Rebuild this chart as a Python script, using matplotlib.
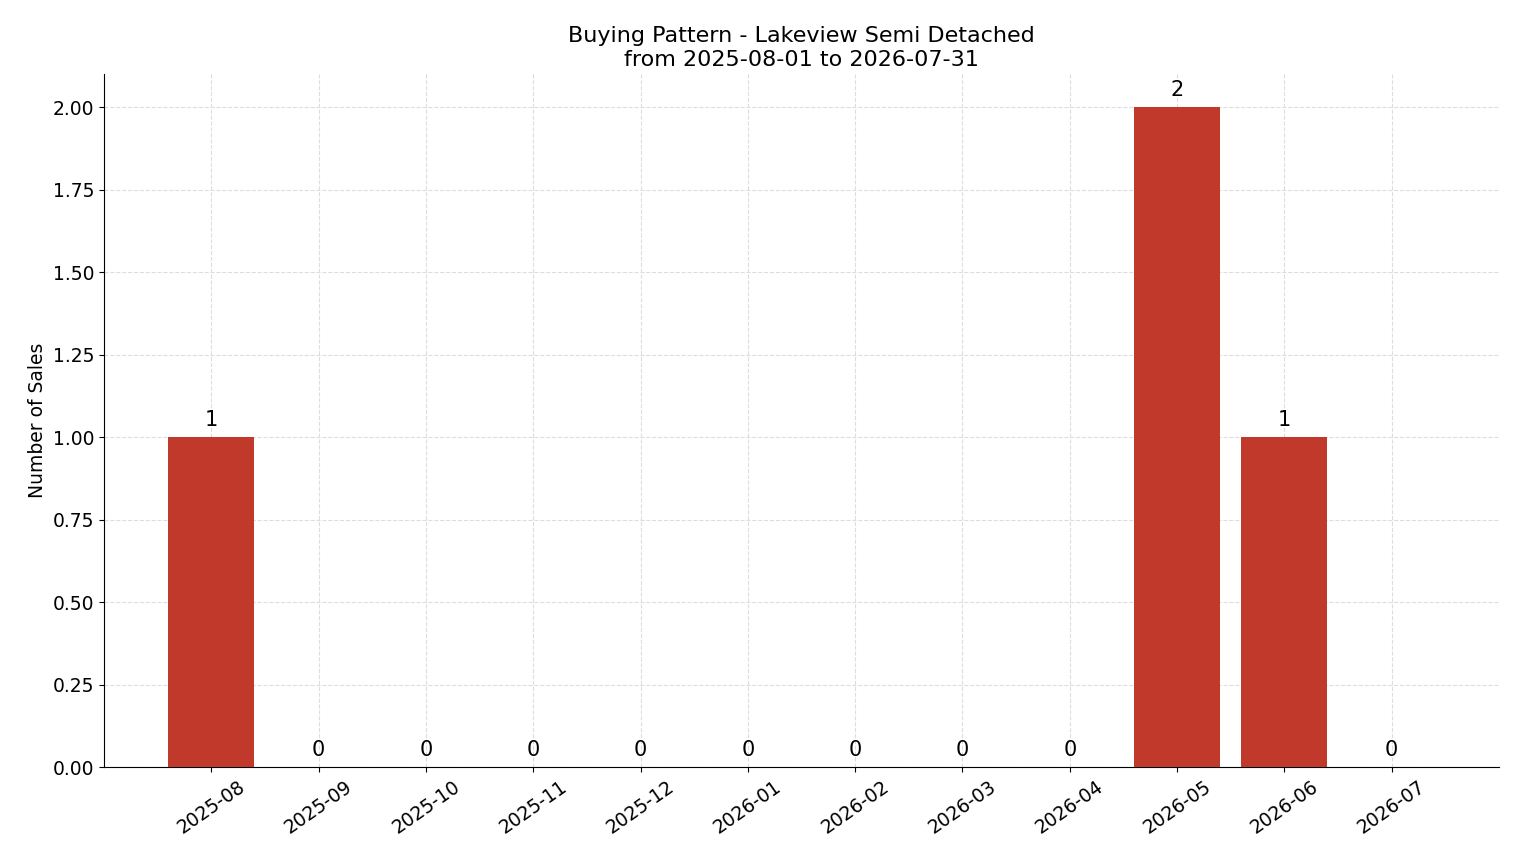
import matplotlib
matplotlib.use("Agg")
import matplotlib.pyplot as plt

months = ["2025-08","2025-09","2025-10","2025-11","2025-12","2026-01","2026-02","2026-03","2026-04","2026-05","2026-06","2026-07"]
sales = [1,0,0,0,0,0,0,0,0,2,1,0]

fig = plt.figure(figsize=(15.14, 8.63), dpi=100)
ax = fig.add_axes([104/1514, 1-767/863, (1499-104)/1514, (767-74)/863])
x = list(range(len(months)))
bars = ax.bar(x, sales, width=0.8, color="#C0392B", zorder=3)
for xi, v in zip(x, sales):
    ax.text(xi, v + 0.02, str(v), ha="center", va="bottom", fontsize=15)
ax.set_xlim(-1, 12)
ax.set_ylim(0, 2.1)
ax.set_xticks(x)
ax.set_xticklabels(months, rotation=35, fontsize=13.5)
ax.tick_params(axis="y", labelsize=13.5)
ax.yaxis.set_major_formatter(matplotlib.ticker.FormatStrFormatter("%.2f"))
ax.set_yticks([0,0.25,0.5,0.75,1.0,1.25,1.5,1.75,2.0])
ax.set_ylabel("Number of Sales", fontsize=13.5)
ax.set_title("Buying Pattern - Lakeview Semi Detached\nfrom 2025-08-01 to 2026-07-31", fontsize=16)
ax.grid(True, linestyle="--", color="#dddddd", linewidth=0.8, zorder=0)
ax.spines["top"].set_visible(False)
ax.spines["right"].set_visible(False)
fig.savefig("out.png", dpi=100)
